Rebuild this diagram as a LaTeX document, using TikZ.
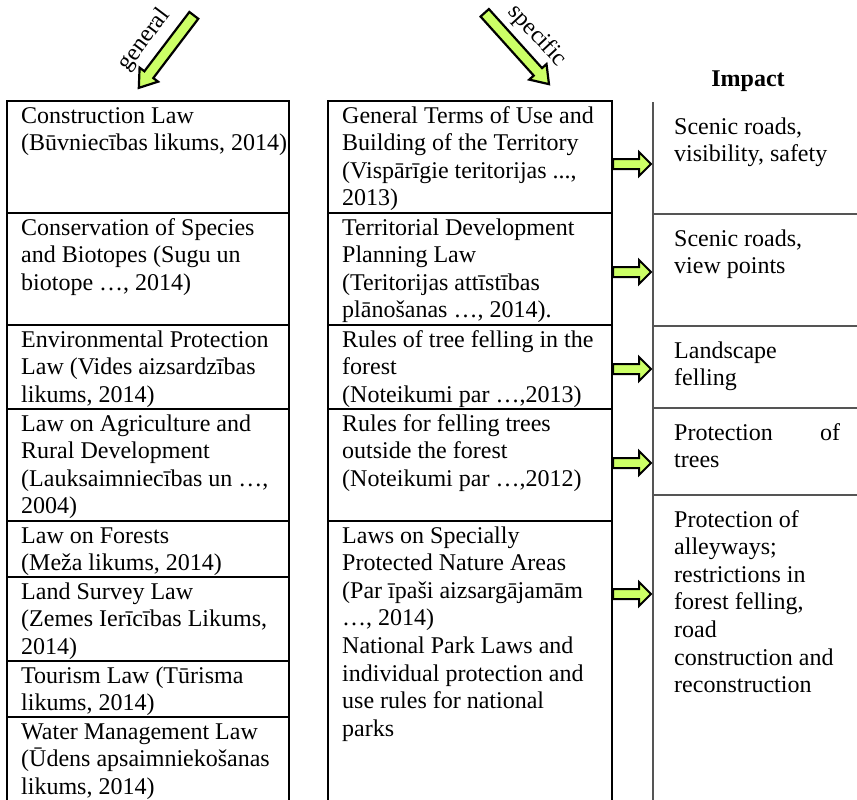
\documentclass[tikz,border=0pt]{standalone}
\usepackage{fontspec}
\setmainfont{Liberation Serif}
\usetikzlibrary{shapes.arrows}

\definecolor{arrowgreen}{RGB}{204,255,102}
\definecolor{rulegray}{RGB}{85,85,85}
\newcommand\cellfont{\fontsize{24}{27.6}\selectfont}
% stacked lines whose baseline is that of the first line
\newcommand\toplines[1]{\begin{tabular}[t]{@{}l@{}}#1\end{tabular}}

\begin{document}
\begin{tikzpicture}[x=1pt,y=1pt,
  tablecell/.style={draw, line width=2.2pt, rectangle, anchor=north west,
    inner sep=0pt, outer sep=0pt, minimum height=#1},
  leftcell/.style={tablecell=#1, minimum width=282},
  midcell/.style={tablecell=#1, minimum width=284},
  txt/.style={anchor=base west, inner sep=0pt, font=\cellfont},
  impactrule/.style={draw=rulegray, line width=1.3pt},
  fatarrow/.style={single arrow, draw=black, fill=arrowgreen, anchor=tail,
    line width=2pt, inner xsep=0pt, single arrow head indent=0pt},
  smallarrow/.style={fatarrow, minimum height=38, inner ysep=4pt,
    single arrow head extend=7pt, single arrow tip angle=90},
  bigarrow/.style={fatarrow, line width=2.2pt, inner ysep=4.5pt,
    single arrow head extend=6pt, single arrow tip angle=70},
]
\path[fill=white, use as bounding box] (0,0) rectangle (857,-800);

% direction arrows above the two columns
\node[bigarrow, rotate=232.8, minimum height=91] (genarrow) at (194.5,-14.5) {};
\node[font=\cellfont, rotate=53] (gen) at (144.5,-40) {general};
\node[bigarrow, rotate=-48, minimum height=96] (specarrow) at (484,-12) {};
\node[font=\cellfont, rotate=-47] (spec) at (537,-36) {specific};

% heading of the impact column
\node[font=\cellfont\bfseries, anchor=base, inner sep=0pt] (imp) at (748,-86) {Impact};

% general laws
\node[leftcell=112] (L1) at (7,-101) {};
\node[leftcell=112] (L2) at (7,-213) {};
\node[leftcell=84]  (L3) at (7,-325) {};
\node[leftcell=112] (L4) at (7,-409) {};
\node[leftcell=56]  (L5) at (7,-521) {};
\node[leftcell=84]  (L6) at (7,-577) {};
\node[leftcell=56]  (L7) at (7,-661) {};
\node[leftcell=85]  (L8) at (7,-717) {};

\node[txt] (tL1) at ([shift={(14,-22)}]L1.north west) {\toplines{Construction Law\\(Būvniecības likums, 2014)}};
\node[txt] (tL2) at ([shift={(14,-22)}]L2.north west) {\toplines{Conservation of Species\\and Biotopes (Sugu un\\biotope …, 2014)}};
\node[txt] (tL3) at ([shift={(14,-22)}]L3.north west) {\toplines{Environmental Protection\\Law (Vides aizsardzības\\likums, 2014)}};
\node[txt] (tL4) at ([shift={(14,-22)}]L4.north west) {\toplines{Law on Agriculture and\\Rural Development\\(Lauksaimniecības un …,\\2004)}};
\node[txt] (tL5) at ([shift={(14,-22)}]L5.north west) {\toplines{Law on Forests\\(Meža likums, 2014)}};
\node[txt] (tL6) at ([shift={(14,-22)}]L6.north west) {\toplines{Land Survey Law\\(Zemes Ierīcības Likums,\\2014)}};
\node[txt] (tL7) at ([shift={(14,-22)}]L7.north west) {\toplines{Tourism Law (Tūrisma\\likums, 2014)}};
\node[txt] (tL8) at ([shift={(14,-22)}]L8.north west) {\toplines{Water Management Law\\(Ūdens apsaimniekošanas\\likums, 2014)}};

% specific regulations
\node[midcell=112] (M1) at (328,-101) {};
\node[midcell=112] (M2) at (328,-213) {};
\node[midcell=84]  (M3) at (328,-325) {};
\node[midcell=112] (M4) at (328,-409) {};
\node[midcell=281] (M5) at (328,-521) {};

\node[txt] (tM1) at ([shift={(14,-22)}]M1.north west) {\toplines{General Terms of Use and\\Building of the Territory\\(Vispārīgie teritorijas ...,\\2013)}};
\node[txt] (tM2) at ([shift={(14,-22)}]M2.north west) {\toplines{Territorial Development\\Planning Law\\(Teritorijas attīstības\\plānošanas …, 2014).}};
\node[txt] (tM3) at ([shift={(14,-22)}]M3.north west) {\toplines{Rules of tree felling in the\\forest\\(Noteikumi par …,2013)}};
\node[txt] (tM4) at ([shift={(14,-22)}]M4.north west) {\toplines{Rules for felling trees\\outside the forest\\(Noteikumi par …,2012)}};
\node[txt] (tM5) at ([shift={(14,-22)}]M5.north west) {\toplines{Laws on Specially\\Protected Nature Areas\\(Par īpaši aizsargājamām\\…, 2014)\\National Park Laws and\\individual protection and\\use rules for national\\parks}};

% impact column rules
\coordinate (I1) at (653,-102);
\coordinate (I2) at (653,-214);
\coordinate (I3) at (653,-326);
\coordinate (I4) at (653,-408);
\coordinate (I5) at (653,-495);
\coordinate (Iend) at (653,-802);
\draw[impactrule] (I1) -- (Iend);
\foreach \c in {I2,I3,I4,I5} \draw[impactrule] (\c) -- ++(204,0);

\node[txt] (tI1) at ([shift={(21,-32)}]I1) {\toplines{Scenic roads,\\visibility, safety}};
\node[txt] (tI2) at ([shift={(21,-32)}]I2) {\toplines{Scenic roads,\\view points}};
\node[txt] (tI3) at ([shift={(21,-32)}]I3) {\toplines{Landscape\\felling}};
\node[txt] (tI4) at ([shift={(21,-32)}]I4) {\toplines{\makebox[166pt][l]{Protection\hfill of}\\trees}};
\node[txt] (tI5) at ([shift={(21,-32)}]I5) {\toplines{Protection of\\alleyways;\\restrictions in\\forest felling,\\road\\construction and\\reconstruction}};

% arrows from each regulation to its impact
\node[smallarrow] (A1) at ([yshift=-63]M1.north east) {};
\node[smallarrow] (A2) at ([yshift=-59]M2.north east) {};
\node[smallarrow] (A3) at ([yshift=-44]M3.north east) {};
\node[smallarrow] (A4) at ([yshift=-54]M4.north east) {};
\node[smallarrow] (A5) at ([yshift=-73]M5.north east) {};
\end{tikzpicture}
\end{document}
